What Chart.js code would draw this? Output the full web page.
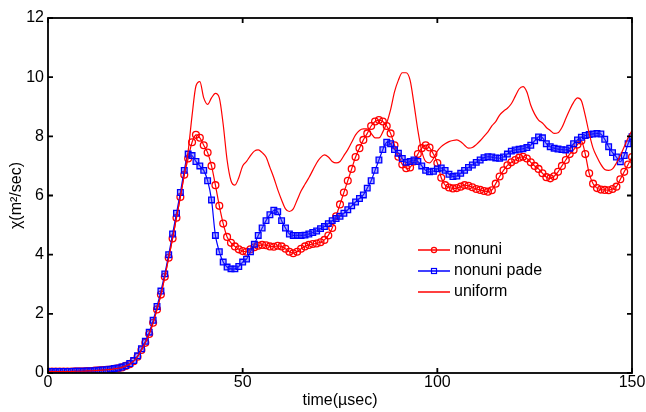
<!DOCTYPE html>
<html>
<head>
<meta charset="utf-8">
<script src="https://cdn.jsdelivr.net/npm/chart.js@4.4.1/dist/chart.umd.min.js"></script>
<style>
  html, body { margin: 0; padding: 0; background: #fff; }
  canvas { display: block; }
</style>
</head>
<body>
<canvas id="chi" width="646" height="412"></canvas>
<script>
// time samples (usec), one per microsecond
const time = Array.from({ length: 151 }, (_, i) => i);

const nonuni = [
  0.05, 0.05, 0.05, 0.05, 0.05, 0.05, 0.05, 0.06, 0.06, 0.06,
  0.07, 0.07, 0.08, 0.09, 0.10, 0.11, 0.12, 0.14, 0.16, 0.19,
  0.24, 0.30, 0.40, 0.55, 0.78, 1.02, 1.32, 1.70, 2.15, 2.65,
  3.25, 3.90, 4.55, 5.25, 5.95, 6.70, 7.25, 7.80, 8.05, 7.95,
  7.70, 7.45, 7.00, 6.35, 5.65, 5.05, 4.60, 4.40, 4.28, 4.18,
  4.12, 4.10, 4.18, 4.25, 4.30, 4.33, 4.32, 4.28, 4.27, 4.30,
  4.28, 4.20, 4.10, 4.05, 4.10, 4.20, 4.28, 4.33, 4.36, 4.38,
  4.42, 4.50, 4.65, 4.90, 5.30, 5.70, 6.10, 6.50, 6.90, 7.30,
  7.60, 7.88, 8.10, 8.35, 8.50, 8.55, 8.50, 8.35, 8.10, 7.70,
  7.31, 7.05, 6.92, 6.95, 7.15, 7.40, 7.60, 7.70, 7.62, 7.40,
  7.10, 6.60, 6.35, 6.27, 6.24, 6.25, 6.30, 6.35, 6.33, 6.28,
  6.22, 6.19, 6.15, 6.13, 6.18, 6.40, 6.64, 6.85, 7.02, 7.12,
  7.20, 7.28, 7.31, 7.25, 7.12, 7.00, 6.90, 6.75, 6.62, 6.58,
  6.65, 6.80, 7.00, 7.20, 7.40, 7.54, 7.72, 7.85, 7.40, 6.75,
  6.40, 6.25, 6.20, 6.19, 6.18, 6.22, 6.30, 6.55, 6.80, 7.05, 7.30
];

const nonuniPade = [
  0.05, 0.05, 0.05, 0.05, 0.05, 0.05, 0.05, 0.06, 0.06, 0.06,
  0.07, 0.07, 0.08, 0.09, 0.10, 0.11, 0.13, 0.15, 0.17, 0.20,
  0.25, 0.32, 0.42, 0.58, 0.82, 1.07, 1.38, 1.78, 2.25, 2.77,
  3.35, 4.00, 4.70, 5.40, 6.10, 6.85, 7.40, 7.35, 7.15, 7.00,
  6.85, 6.50, 5.85, 4.65, 4.10, 3.75, 3.58, 3.52, 3.52, 3.60,
  3.75, 3.85, 4.10, 4.35, 4.65, 4.90, 5.15, 5.35, 5.50, 5.45,
  5.15, 4.90, 4.70, 4.65, 4.65, 4.65, 4.66, 4.70, 4.75, 4.80,
  4.88, 4.95, 5.05, 5.15, 5.22, 5.30, 5.40, 5.52, 5.65, 5.78,
  5.90, 6.02, 6.25, 6.50, 6.85, 7.20, 7.55, 7.80, 7.75, 7.55,
  7.43, 7.25, 7.12, 7.15, 7.20, 7.15, 7.00, 6.85, 6.80, 6.82,
  6.90, 6.93, 6.85, 6.72, 6.64, 6.66, 6.75, 6.85, 6.95, 7.03,
  7.12, 7.20, 7.28, 7.31, 7.30, 7.27, 7.26, 7.30, 7.40, 7.50,
  7.54, 7.56, 7.58, 7.62, 7.70, 7.85, 7.98, 7.95, 7.75, 7.65,
  7.60, 7.57, 7.55, 7.54, 7.60, 7.75, 7.88, 7.97, 8.03, 8.06,
  8.08, 8.10, 8.08, 7.90, 7.65, 7.45, 7.30, 7.14, 7.35, 7.75, 7.99
];

const uniform = [
  0.05, 0.05, 0.05, 0.05, 0.05, 0.05, 0.05, 0.06, 0.06, 0.06,
  0.07, 0.07, 0.08, 0.09, 0.10, 0.11, 0.12, 0.14, 0.16, 0.19,
  0.24, 0.30, 0.40, 0.55, 0.78, 1.02, 1.32, 1.70, 2.15, 2.65,
  3.25, 3.90, 4.55, 5.25, 5.95, 6.70, 7.50, 8.70, 9.70, 9.85,
  9.30, 9.08, 9.30, 9.45, 9.30, 8.40, 7.20, 6.50, 6.35, 6.60,
  7.00, 7.15, 7.35, 7.50, 7.54, 7.45, 7.30, 6.95, 6.60, 6.20,
  5.85, 5.55, 5.46, 5.55, 5.85, 6.15, 6.38, 6.60, 6.85, 7.10,
  7.28, 7.37, 7.30, 7.15, 7.10, 7.15, 7.35, 7.55, 7.80, 8.05,
  8.20, 8.25, 8.25, 8.10, 7.95, 7.95, 8.15, 8.45, 8.90, 9.50,
  9.90, 10.15, 10.15, 9.90, 9.10, 8.20, 7.50, 7.15, 7.10, 7.25,
  7.50, 7.65, 7.75, 7.82, 7.86, 7.88, 7.82, 7.70, 7.60, 7.62,
  7.72, 7.85, 8.00, 8.15, 8.35, 8.50, 8.72, 8.85, 8.95, 9.10,
  9.35, 9.60, 9.68, 9.50, 9.05, 8.75, 8.55, 8.45, 8.30, 8.20,
  8.10, 8.12, 8.30, 8.60, 8.90, 9.15, 9.30, 9.20, 8.70, 8.10,
  7.60, 7.30, 7.05, 6.88, 6.85, 6.90, 7.10, 7.35, 7.65, 7.95, 8.20
];

const xTicks = [0, 50, 100, 150];
const yTicks = [0, 2, 4, 6, 8, 10, 12];
const labels = ["nonuni", "nonuni pade", "uniform"];

const FONT = "'Liberation Sans', Arial, Helvetica, sans-serif";
const pts = arr => arr.map((v, i) => ({ x: time[i], y: v }));

// MATLAB-style box with inward ticks on all four sides
const boxPlugin = {
  id: "box",
  afterDraw(chart) {
    const { ctx, chartArea: a, scales } = chart;
    ctx.save();
    ctx.strokeStyle = "#000";
    ctx.lineWidth = 1.8;
    ctx.beginPath();
    xTicks.forEach(t => {
      const px = scales.x.getPixelForValue(t);
      ctx.moveTo(px, a.bottom); ctx.lineTo(px, a.bottom - 5);
      ctx.moveTo(px, a.top); ctx.lineTo(px, a.top + 5);
    });
    yTicks.forEach(t => {
      const py = scales.y.getPixelForValue(t);
      ctx.moveTo(a.left, py); ctx.lineTo(a.left + 5, py);
      ctx.moveTo(a.right, py); ctx.lineTo(a.right - 5, py);
    });
    ctx.stroke();
    ctx.strokeRect(a.left, a.top, a.right - a.left, a.bottom - a.top);
    ctx.restore();
  }
};

// legend drawn inside the axes, like the original
const legendPlugin = {
  id: "innerLegend",
  afterDraw(chart) {
    const { ctx } = chart;
    const x0 = 418, x1 = 450, rows = [250, 271, 292];
    ctx.save();
    ctx.font = "16px " + FONT;
    ctx.textBaseline = "middle";
    ctx.fillStyle = "#000";
    chart.data.datasets.forEach((ds, i) => {
      const y = rows[i];
      ctx.strokeStyle = ds.borderColor;
      ctx.lineWidth = 1.5;
      ctx.beginPath();
      ctx.moveTo(x0, y); ctx.lineTo(x1, y);
      ctx.stroke();
      const cx = (x0 + x1) / 2;
      ctx.lineWidth = 1.2;
      if (ds.pointStyle === "circle" && ds.pointRadius > 0) {
        ctx.beginPath();
        ctx.arc(cx, y, 2.6, 0, Math.PI * 2);
        ctx.stroke();
      } else if (ds.pointStyle === "rect" && ds.pointRadius > 0) {
        ctx.strokeRect(cx - 2.5, y - 2.5, 5, 5);
      }
      ctx.fillText(ds.label, 454, y);
    });
    ctx.restore();
  }
};

new Chart(document.getElementById("chi"), {
  type: "line",
  data: {
    datasets: [
      {
        label: labels[0],
        data: pts(nonuni),
        borderColor: "#ff0000",
        borderWidth: 1.2,
        pointStyle: "circle",
        pointRadius: 3.4,
        pointBorderWidth: 1.3,
        pointBackgroundColor: "rgba(255,255,255,0)",
        pointBorderColor: "#ff0000",
        tension: 0.3,
        order: 3
      },
      {
        label: labels[1],
        data: pts(nonuniPade),
        borderColor: "#0000ff",
        borderWidth: 1.2,
        pointStyle: "rect",
        pointRadius: 4,
        pointBorderWidth: 1.3,
        pointBackgroundColor: "rgba(60,60,255,0.4)",
        pointBorderColor: "#0000ff",
        tension: 0.3,
        order: 2
      },
      {
        label: labels[2],
        data: pts(uniform),
        borderColor: "#ff0000",
        borderWidth: 1.2,
        pointRadius: 0,
        cubicInterpolationMode: "monotone",
        order: 1
      }
    ]
  },
  options: {
    responsive: false,
    animation: false,
    devicePixelRatio: 1,
    layout: { padding: { top: 18, right: 14, left: 0, bottom: 0 } },
    plugins: { legend: { display: false }, tooltip: { enabled: false } },
    scales: {
      x: {
        type: "linear",
        min: 0, max: 150,
        afterBuildTicks: s => { s.ticks = xTicks.map(v => ({ value: v })); },
        afterFit: s => { s.height = 39; },
        ticks: { color: "#000", font: { family: FONT, size: 16 }, padding: 0, maxRotation: 0 },
        grid: { display: false, drawTicks: false },
        border: { display: false },
        title: { display: true, text: "time(\u00b5sec)", color: "#000", font: { family: FONT, size: 16 }, padding: { top: 0, bottom: 2 } }
      },
      y: {
        min: 0, max: 12,
        afterBuildTicks: s => { s.ticks = yTicks.map(v => ({ value: v })); },
        afterFit: s => { s.width = 48; },
        ticks: { color: "#000", font: { family: FONT, size: 16 }, padding: 4 },
        grid: { display: false, drawTicks: false },
        border: { display: false },
        title: { display: true, text: "\u03c7(m\u00b2/sec)", color: "#000", font: { family: FONT, size: 16 }, padding: { top: 7, bottom: 0 } }
      }
    }
  },
  plugins: [boxPlugin, legendPlugin]
});
</script>
</body>
</html>
